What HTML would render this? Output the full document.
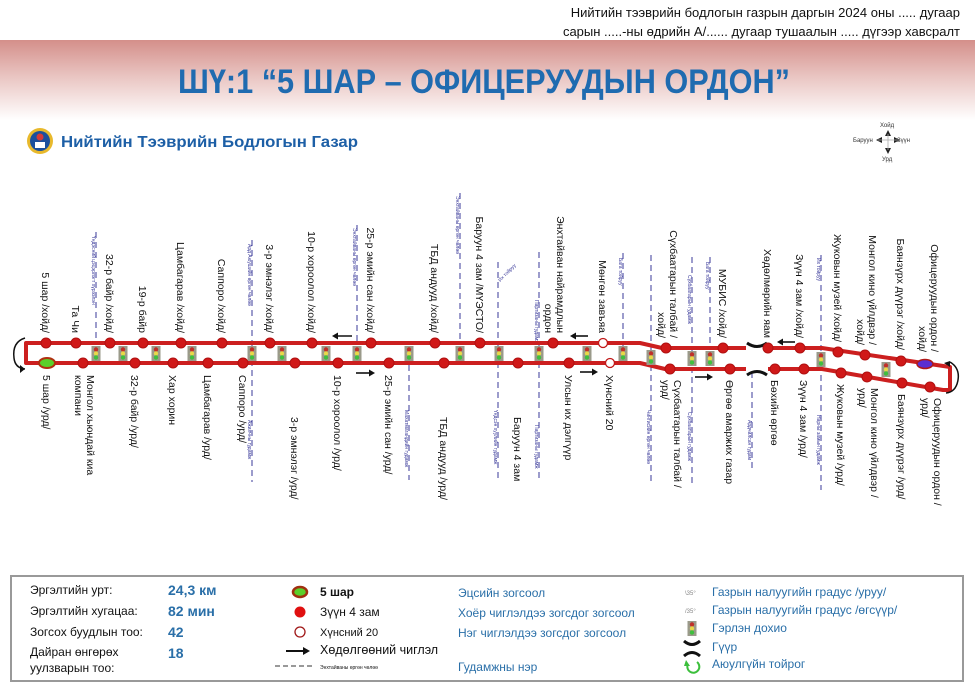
<!DOCTYPE html>
<html><head><meta charset="utf-8"><style>
html,body{margin:0;padding:0;background:#fff}
svg{display:block}
text{font-family:"Liberation Sans","DejaVu Sans",sans-serif}
</style></head><body>
<svg width="975" height="683" viewBox="0 0 975 683" xmlns="http://www.w3.org/2000/svg">
<defs>
<linearGradient id="band" x1="0" y1="0" x2="0" y2="1">
<stop offset="0" stop-color="#d48f8a"/><stop offset="0.45" stop-color="#e9c4c1"/><stop offset="1" stop-color="#ffffff"/>
</linearGradient>
<g id="tl"><rect x="-4.5" y="-7" width="9" height="15" fill="#9a9a8a"/><circle cx="0" cy="-3.5" r="2.2" fill="#c0302a"/><circle cx="0" cy="0.5" r="2.2" fill="#e8d84a"/><circle cx="0" cy="4.5" r="2.2" fill="#3fbf3f"/></g>
</defs>
<rect x="0" y="0" width="975" height="683" fill="#fff"/>
<text x="960" y="17" font-size="13" text-anchor="end" fill="#111">Нийтийн тээврийн бодлогын газрын даргын 2024 оны ..... дугаар</text>
<text x="960" y="36" font-size="13" text-anchor="end" fill="#111">сарын .....-ны өдрийн А/...... дугаар тушаалын ..... дүгээр хавсралт</text>
<rect x="0" y="40" width="975" height="80" fill="url(#band)"/>
<rect x="700" y="20" width="275" height="20" fill="none"/>
<text x="178" y="93" font-size="34" font-weight="bold" fill="#1f6bb0" textLength="612" lengthAdjust="spacingAndGlyphs">ШҮ:1 “5 ШАР – ОФИЦЕРУУДЫН ОРДОН”</text>
<!-- logo -->
<circle cx="40" cy="141" r="13" fill="#e8b92c"/><circle cx="40" cy="141" r="10" fill="#1b4f9c"/><circle cx="40" cy="137" r="3.5" fill="#d23a3a"/><rect x="35" y="142" width="10" height="6" fill="#fff"/>
<text x="61" y="147" font-size="15.5" font-weight="bold" fill="#1d5fa6" textLength="297" lengthAdjust="spacingAndGlyphs">Нийтийн Тээврийн Бодлогын Газар</text>
<!-- compass -->
<g font-size="6" fill="#333">
<text x="880" y="127">Хойд</text><text x="853" y="142">Баруун</text><text x="897" y="142">Зүүн</text><text x="882" y="161">Урд</text>
<path d="M888 130 L885 136 L891 136Z M888 154 L885 148 L891 148Z M876 140 L882 137 L882 143Z M900 140 L894 137 L894 143Z" fill="#222"/>
<line x1="888" y1="134" x2="888" y2="150" stroke="#aaa" stroke-width="0.8"/><line x1="878" y1="140" x2="898" y2="140" stroke="#aaa" stroke-width="0.8"/>
</g>

<!-- dashed street lines -->
<g stroke="#3a3a9a" stroke-width="1" stroke-dasharray="6,4" fill="none">
<line x1="96" y1="232" x2="96" y2="343"/>
<line x1="252" y1="240" x2="252" y2="482"/>
<line x1="357" y1="225" x2="357" y2="345"/>
<line x1="409" y1="365" x2="409" y2="480"/>
<line x1="460" y1="193" x2="460" y2="345"/>
<line x1="498" y1="262" x2="498" y2="482"/>
<line x1="539" y1="252" x2="539" y2="482"/>
<line x1="623" y1="253" x2="623" y2="346"/>
<line x1="651" y1="255" x2="651" y2="482"/>
<line x1="692" y1="257" x2="692" y2="485"/>
<line x1="710" y1="257" x2="710" y2="350"/>
<line x1="752" y1="372" x2="752" y2="472"/>
<line x1="821" y1="255" x2="821" y2="490"/>
</g>
<g font-size="5" fill="#3a3a9a">
<text transform="translate(92,236) rotate(90)">Үндэсний цэцэрлэгт хүрээлэн</text>
<text transform="translate(248,244) rotate(90)">Ард Аюушийн өргөн чөлөө</text>
<text transform="translate(248,420) rotate(90)">Ажилчны гудамж</text>
<text transform="translate(353,228) rotate(90)">Энхтайваны өргөн чөлөө</text>
<text transform="translate(405,410) rotate(90)">Махатмагандийн гудамж</text>
<text transform="translate(456,196) rotate(90)">Энхтайваны өргөн чөлөө</text>
<text transform="translate(494,410) rotate(90)">Үндсэн хуулийн гудамж</text>
<text transform="translate(535,425) rotate(90)">Партизаны гудамж</text>
<text transform="translate(535,300) rotate(90)">Партизаны гудамж</text>
<text transform="translate(500,282) rotate(-45)">Их тойруу</text>
<text transform="translate(619,258) rotate(90)">Бага тойруу</text>
<text transform="translate(647,410) rotate(90)">Чингисийн өргөн чөлөө</text>
<text transform="translate(688,412) rotate(90)">Сүхбаатарын гудамж</text>
<text transform="translate(688,275) rotate(90)">Сүхбаатарын гудамж</text>
<text transform="translate(706,262) rotate(90)">Бага тойруу</text>
<text transform="translate(748,420) rotate(90)">Ардчилсан гудам</text>
<text transform="translate(817,258) rotate(90)">Их тойруу</text>
<text transform="translate(817,415) rotate(90)">Нарны замын гудамж</text>
</g>

<!-- route lines -->
<g stroke="#cc1f1f" stroke-width="4" fill="none" stroke-linejoin="round">
<polyline points="746,348 662,348 640,343 26,343 26,363 640,363 665,369 746,369"/>
<polyline points="768,348 822,348 950,367 950,390 943,390 822,369 768,369"/>
</g>
<!-- bridge -->
<g stroke="#111" stroke-width="3" fill="none">
<path d="M747,343 Q757,350 767,343"/><path d="M747,375 Q757,368 767,375"/>
</g>
<!-- curved end arrows -->
<g stroke="#111" stroke-width="1.5" fill="none">
<path d="M25,338 Q12,342 14,358 Q15,368 25,369"/>
<path d="M950,362 Q960,368 958,380 Q956,392 946,393"/>
</g>
<path d="M25,369 L20,365 L20,373Z" fill="#111"/>
<path d="M950,361 L944,363 L950,367Z" fill="#111"/>

<!-- traffic lights -->
<use href="#tl" x="96" y="353"/><use href="#tl" x="123" y="353"/><use href="#tl" x="156" y="353"/><use href="#tl" x="192" y="353"/><use href="#tl" x="252" y="353"/><use href="#tl" x="282" y="353"/><use href="#tl" x="326" y="353"/><use href="#tl" x="357" y="353"/><use href="#tl" x="409" y="353"/><use href="#tl" x="460" y="353"/><use href="#tl" x="499" y="353"/><use href="#tl" x="539" y="353"/><use href="#tl" x="587" y="353"/><use href="#tl" x="623" y="353"/><use href="#tl" x="651" y="357"/><use href="#tl" x="692" y="358"/><use href="#tl" x="710" y="358"/><use href="#tl" x="821" y="359"/><use href="#tl" x="886" y="369"/>

<!-- stops -->
<g fill="#d01818" stroke="#b01010" stroke-width="1">
<circle cx="46" cy="343" r="5"/><circle cx="76" cy="343" r="5"/><circle cx="110" cy="343" r="5"/><circle cx="143" cy="343" r="5"/><circle cx="181" cy="343" r="5"/><circle cx="222" cy="343" r="5"/><circle cx="270" cy="343" r="5"/><circle cx="312" cy="343" r="5"/><circle cx="371" cy="343" r="5"/><circle cx="435" cy="343" r="5"/><circle cx="480" cy="343" r="5"/><circle cx="553" cy="343" r="5"/><circle cx="666" cy="348" r="5"/><circle cx="723" cy="348" r="5"/><circle cx="768" cy="348" r="5"/><circle cx="800" cy="348" r="5"/><circle cx="838" cy="352" r="5"/><circle cx="865" cy="355" r="5"/><circle cx="901" cy="361" r="5"/>
<circle cx="83" cy="363" r="5"/><circle cx="135" cy="363" r="5"/><circle cx="173" cy="363" r="5"/><circle cx="208" cy="363" r="5"/><circle cx="243" cy="363" r="5"/><circle cx="295" cy="363" r="5"/><circle cx="338" cy="363" r="5"/><circle cx="389" cy="363" r="5"/><circle cx="444" cy="363" r="5"/><circle cx="518" cy="363" r="5"/><circle cx="569" cy="363" r="5"/><circle cx="670" cy="369" r="5"/><circle cx="730" cy="369" r="5"/><circle cx="775" cy="369" r="5"/><circle cx="804" cy="369" r="5"/><circle cx="841" cy="373" r="5"/><circle cx="867" cy="377" r="5"/><circle cx="902" cy="383" r="5"/><circle cx="930" cy="387" r="5"/>
</g>
<circle cx="603" cy="343" r="4.5" fill="#fff" stroke="#c01818" stroke-width="1.3"/>
<circle cx="610" cy="363" r="4.5" fill="#fff" stroke="#c01818" stroke-width="1.3"/>
<ellipse cx="47" cy="363" rx="8" ry="5" fill="#5ad02a" stroke="#b03010" stroke-width="2"/>
<ellipse cx="925" cy="364" rx="8" ry="4.5" fill="#5a2fd0" stroke="#b01818" stroke-width="1.5"/>

<!-- direction arrows -->
<g stroke="#111" stroke-width="1.6">
<line x1="335" y1="336" x2="352" y2="336"/><line x1="356" y1="373" x2="372" y2="373"/>
<line x1="573" y1="336" x2="588" y2="336"/><line x1="580" y1="372" x2="595" y2="372"/>
<line x1="695" y1="377" x2="710" y2="377"/><line x1="780" y1="342" x2="795" y2="342"/>
</g>
<g fill="#111">
<path d="M332,336 l6,-3.5 v7Z"/><path d="M375,373 l-6,-3.5 v7Z"/>
<path d="M570,336 l6,-3.5 v7Z"/><path d="M598,372 l-6,-3.5 v7Z"/>
<path d="M713,377 l-6,-3.5 v7Z"/><path d="M777,342 l6,-3.5 v7Z"/>
</g>

<!-- top labels -->
<g font-size="10.5" fill="#111" text-anchor="end">
<text transform="translate(42,333) rotate(90)">5 шар /хойд/</text>
<text transform="translate(72,333) rotate(90)">Та Чи</text>
<text transform="translate(106,333) rotate(90)">32-р байр /хойд/</text>
<text transform="translate(139,333) rotate(90)">19-р байр</text>
<text transform="translate(177,333) rotate(90)">Цамбагарав /хойд/</text>
<text transform="translate(218,333) rotate(90)">Саппоро /хойд/</text>
<text transform="translate(266,333) rotate(90)">3-р эмнэлэг /хойд/</text>
<text transform="translate(308,333) rotate(90)">10-р хороолол /хойд/</text>
<text transform="translate(367,333) rotate(90)">25-р эмийн сан /хойд/</text>
<text transform="translate(431,333) rotate(90)">ТБД андууд /хойд/</text>
<text transform="translate(476,333) rotate(90)">Баруун 4 зам /МҮЭСТО/</text>
<text transform="translate(557,333) rotate(90)">Энхтайван найрамдлын</text>
<text transform="translate(545,333) rotate(90)">ордон</text>
<text transform="translate(599,333) rotate(90)">Мөнгөн завъяа</text>
<text transform="translate(670,338) rotate(90)">Сүхбаатарын талбай /</text>
<text transform="translate(658,338) rotate(90)">хойд/</text>
<text transform="translate(719,338) rotate(90)">МУБИС /хойд/</text>
<text transform="translate(764,338) rotate(90)">Хөдөлмөрийн яам</text>
<text transform="translate(796,338) rotate(90)">Зүүн 4 зам /хойд/</text>
<text transform="translate(834,342) rotate(90)">Жуковын музей /хойд/</text>
<text transform="translate(869,345) rotate(90)">Монгол кино үйлдвэр /</text>
<text transform="translate(857,345) rotate(90)">хойд/</text>
<text transform="translate(897,350) rotate(90)">Баянзүрх дүүрэг /хойд/</text>
<text transform="translate(931,352) rotate(90)">Офицеруудын ордон /</text>
<text transform="translate(919,352) rotate(90)">хойд/</text>
</g>
<!-- bottom labels -->
<g font-size="10.5" fill="#111">
<text transform="translate(43,375) rotate(90)">5 шар /урд/</text>
<text transform="translate(87,375) rotate(90)">Монгол хьюндай киа</text>
<text transform="translate(75,375) rotate(90)">компани</text>
<text transform="translate(131,375) rotate(90)">32-р байр /урд/</text>
<text transform="translate(169,375) rotate(90)">Хар хорин</text>
<text transform="translate(204,375) rotate(90)">Цамбагарав /урд/</text>
<text transform="translate(239,375) rotate(90)">Саппоро /урд/</text>
<text transform="translate(291,417) rotate(90)">3-р эмнэлэг /урд/</text>
<text transform="translate(334,375) rotate(90)">10-р хороолол /урд/</text>
<text transform="translate(385,375) rotate(90)">25-р эмийн сан /урд/</text>
<text transform="translate(440,417) rotate(90)">ТБД андууд /урд/</text>
<text transform="translate(514,417) rotate(90)">Баруун 4 зам</text>
<text transform="translate(565,375) rotate(90)">Улсын их дэлгүүр</text>
<text transform="translate(606,375) rotate(90)">Хүнсний 20</text>
<text transform="translate(674,380) rotate(90)">Сүхбаатарын талбай /</text>
<text transform="translate(662,380) rotate(90)">урд/</text>
<text transform="translate(726,380) rotate(90)">Өргөө амаржих газар</text>
<text transform="translate(771,380) rotate(90)">Бөхийн өргөө</text>
<text transform="translate(800,380) rotate(90)">Зүүн 4 зам /урд/</text>
<text transform="translate(837,384) rotate(90)">Жуковын музей /урд/</text>
<text transform="translate(871,388) rotate(90)">Монгол кино үйлдвэр /</text>
<text transform="translate(859,388) rotate(90)">урд/</text>
<text transform="translate(898,394) rotate(90)">Баянзүрх дүүрэг /урд/</text>
<text transform="translate(934,398) rotate(90)">Офицеруудын ордон /</text>
<text transform="translate(922,398) rotate(90)">урд/</text>
</g>

<!-- legend -->
<rect x="11" y="576" width="952" height="105" fill="#fff" stroke="#999" stroke-width="2"/>
<g font-size="12" fill="#111">
<text x="30" y="594">Эргэлтийн урт:</text>
<text x="30" y="615">Эргэлтийн хугацаа:</text>
<text x="30" y="636">Зогсох буудлын тоо:</text>
<text x="30" y="656">Дайран өнгөрөх</text>
<text x="30" y="672">уулзварын тоо:</text>
</g>
<g font-size="14" font-weight="bold" fill="#2a6fa8">
<text x="168" y="595">24,3 км</text><text x="168" y="616">82 мин</text><text x="168" y="637">42</text><text x="168" y="658">18</text>
</g>
<ellipse cx="300" cy="592" rx="7" ry="5" fill="#5ad02a" stroke="#a03010" stroke-width="2.5"/>
<circle cx="300" cy="612" r="5.5" fill="#e01010"/>
<circle cx="300" cy="632" r="5" fill="#fff" stroke="#a01818" stroke-width="1.3"/>
<line x1="286" y1="651" x2="305" y2="651" stroke="#111" stroke-width="2"/><path d="M310,651 l-7,-4 v8Z" fill="#111"/>
<line x1="275" y1="666" x2="312" y2="666" stroke="#333" stroke-width="1" stroke-dasharray="5,3"/>
<g fill="#111">
<text x="320" y="596" font-size="12" font-weight="bold">5 шар</text>
<text x="320" y="616" font-size="12">Зүүн 4 зам</text>
<text x="320" y="636" font-size="11">Хүнсний 20</text>
<text x="320" y="654" font-size="12.5">Хөдөлгөөний чиглэл</text>
<text x="320" y="669" font-size="5">Энхтайваны өргөн чөлөө</text>
</g>
<g font-size="12" fill="#2a6fa8">
<text x="458" y="597">Эцсийн зогсоол</text>
<text x="458" y="617">Хоёр чиглэлдээ зогсдог зогсоол</text>
<text x="458" y="637">Нэг чиглэлдээ зогсдог зогсоол</text>
<text x="458" y="671">Гудамжны нэр</text>
<text x="712" y="596">Газрын налуугийн градус /уруу/</text>
<text x="712" y="614">Газрын налуугийн градус /өгсүүр/</text>
<text x="712" y="632">Гэрлэн дохио</text>
<text x="712" y="651">Гүүр</text>
<text x="712" y="668">Аюулгүйн тойрог</text>
</g>
<g font-size="6" fill="#888"><text x="685" y="595">\35°</text><text x="685" y="613">/35°</text></g>
<use href="#tl" x="692" y="628"/>
<g stroke="#111" stroke-width="3" fill="none"><path d="M684,641 Q692,648 700,641"/><path d="M684,656 Q692,649 700,656"/></g>
<path d="M697,662 A6,6 0 1 1 688,664" stroke="#3cbf3c" stroke-width="2" fill="none"/><path d="M686,660 l4,6 l-6,0Z" fill="#3cbf3c"/>
</svg>
</body></html>
